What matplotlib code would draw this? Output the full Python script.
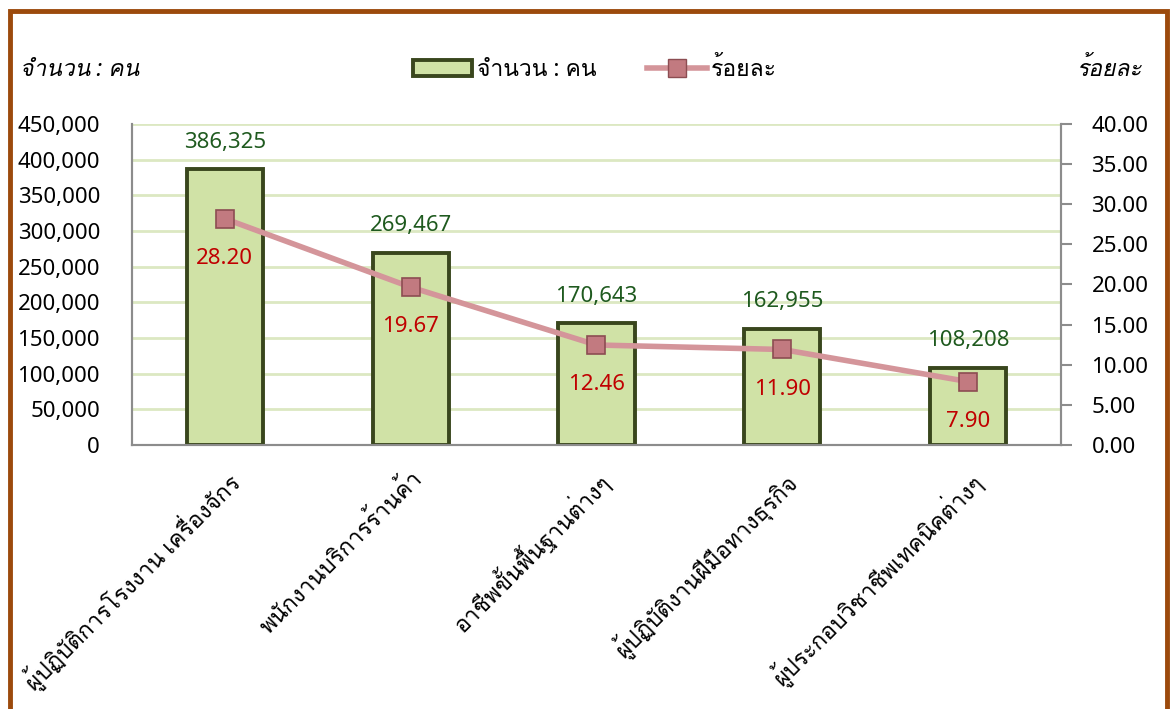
import numpy as np
import matplotlib
matplotlib.use("Agg")
import matplotlib.pyplot as plt
from matplotlib import font_manager
from matplotlib.ft2font import FT2Font
from matplotlib.patches import Rectangle, Patch
from matplotlib.lines import Line2D

# ── Data ──────────────────────────────────────────────────────────
categories = [
    "ผู้ปฏิบัติการโรงงาน เครื่องจักร",
    "พนักงานบริการร้านค้า",
    "อาชีพขั้นพื้นฐานต่างๆ",
    "ผู้ปฏิบัติงานฝีมือทางธุรกิจ",
    "ผู้ประกอบวิชาชีพเทคนิคต่างๆ",
]
counts = [386325, 269467, 170643, 162955, 108208]
percents = [28.20, 19.67, 12.46, 11.90, 7.90]
left_ticks = list(range(0, 450001, 50000))
right_ticks = [0, 5, 10, 15, 20, 25, 30, 35, 40]


def thai_font():
    """Pick an installed font that carries Thai glyphs, if any."""
    for f in font_manager.fontManager.ttflist:
        try:
            if 0x0E08 in FT2Font(f.fname).get_charmap():
                return f.name
        except Exception:
            continue
    return None


fam = thai_font()
plt.rcParams["font.family"] = ["Noto Sans"] + ([fam] if fam else []) + ["DejaVu Sans"]

BAR_FILL = "#d0e2a6"
BAR_EDGE = "#39461d"
LINE_C = "#d4959a"
MARK_FILL = "#c27a80"
MARK_EDGE = "#8c4d52"
GRID_C = "#dce8c2"
AXIS_C = "#8c8c8c"
FS = 16

fig = plt.figure(figsize=(11.73, 7.09), dpi=100)
ax = fig.add_axes([0.1125, 0.3724, 0.792, 0.4527])
ax2 = ax.twinx()

x = np.arange(len(categories))
bars = ax.bar(x, counts, width=0.41, color=BAR_FILL, edgecolor=BAR_EDGE,
              linewidth=2.8, zorder=3)
ax.set_xlim(-0.5, len(categories) - 0.5)
ax.set_ylim(0, 450000)
ax.set_yticks(left_ticks)
ax.set_yticklabels([f"{v:,}" for v in left_ticks], fontsize=FS)
ax.tick_params(axis="y", length=0, pad=23, colors="black")
ax.yaxis.grid(True, color=GRID_C, linewidth=2, zorder=0)
ax.set_axisbelow(True)
ax.set_xticks(x)
ax.set_xticklabels(categories, rotation=45, ha="right", va="top",
                   rotation_mode="anchor", fontsize=16.5)
ax.tick_params(axis="x", length=0, pad=16)

for b, v in zip(bars, counts):
    ax.annotate(f"{v:,}", (b.get_x() + b.get_width() / 2, v),
                xytext=(0, 12), textcoords="offset points", ha="center",
                va="bottom", fontsize=FS, color="#1f5a1f")

ax2.plot(x, percents, color=LINE_C, linewidth=4, marker="s", markersize=13,
         markerfacecolor=MARK_FILL, markeredgecolor=MARK_EDGE,
         markeredgewidth=1.2, zorder=5)
ax2.set_ylim(0, 40)
ax2.set_yticks(right_ticks)
ax2.set_yticklabels([f"{v:.2f}" for v in right_ticks], fontsize=FS)
ax2.tick_params(axis="y", length=8, width=1.5, color=AXIS_C, pad=14)

for xi, p in zip(x, percents):
    ax2.annotate(f"{p:.2f}", (xi, p), xytext=(0, -21),
                 textcoords="offset points", ha="center", va="top",
                 fontsize=FS, color="#c00000")

for a in (ax, ax2):
    a.spines["top"].set_visible(False)
    for s in ("left", "right", "bottom"):
        a.spines[s].set_color(AXIS_C)
        a.spines[s].set_linewidth(1.5)

# axis titles
fig.text(20 / 1173, 1 - 70 / 709, "จำนวน : คน", fontsize=16.5, style="italic",
         ha="left", va="center")
fig.text(1142 / 1173, 1 - 70 / 709, "ร้อยละ", fontsize=16.5, style="italic",
         ha="right", va="center")

# legend
handles = [
    Patch(facecolor=BAR_FILL, edgecolor=BAR_EDGE, linewidth=2.8),
    Line2D([0], [0], color=LINE_C, linewidth=4, marker="s", markersize=13,
           markerfacecolor=MARK_FILL, markeredgecolor=MARK_EDGE),
]
fig.legend(handles, ["จำนวน : คน", "ร้อยละ"], loc="center",
           bbox_to_anchor=(595 / 1173, 1 - 70 / 709), ncol=2, frameon=False,
           fontsize=16.5, handlelength=2.6, handletextpad=0.2, columnspacing=2.2)

# brown frame
fig.add_artist(Rectangle((10 / 1173, -0.2), 1157 / 1173, 1.2 - 11 / 709,
                         transform=fig.transFigure, fill=False,
                         edgecolor="#9c4a0c", linewidth=3.5, clip_on=False))

fig.savefig("out.png", dpi=100)
